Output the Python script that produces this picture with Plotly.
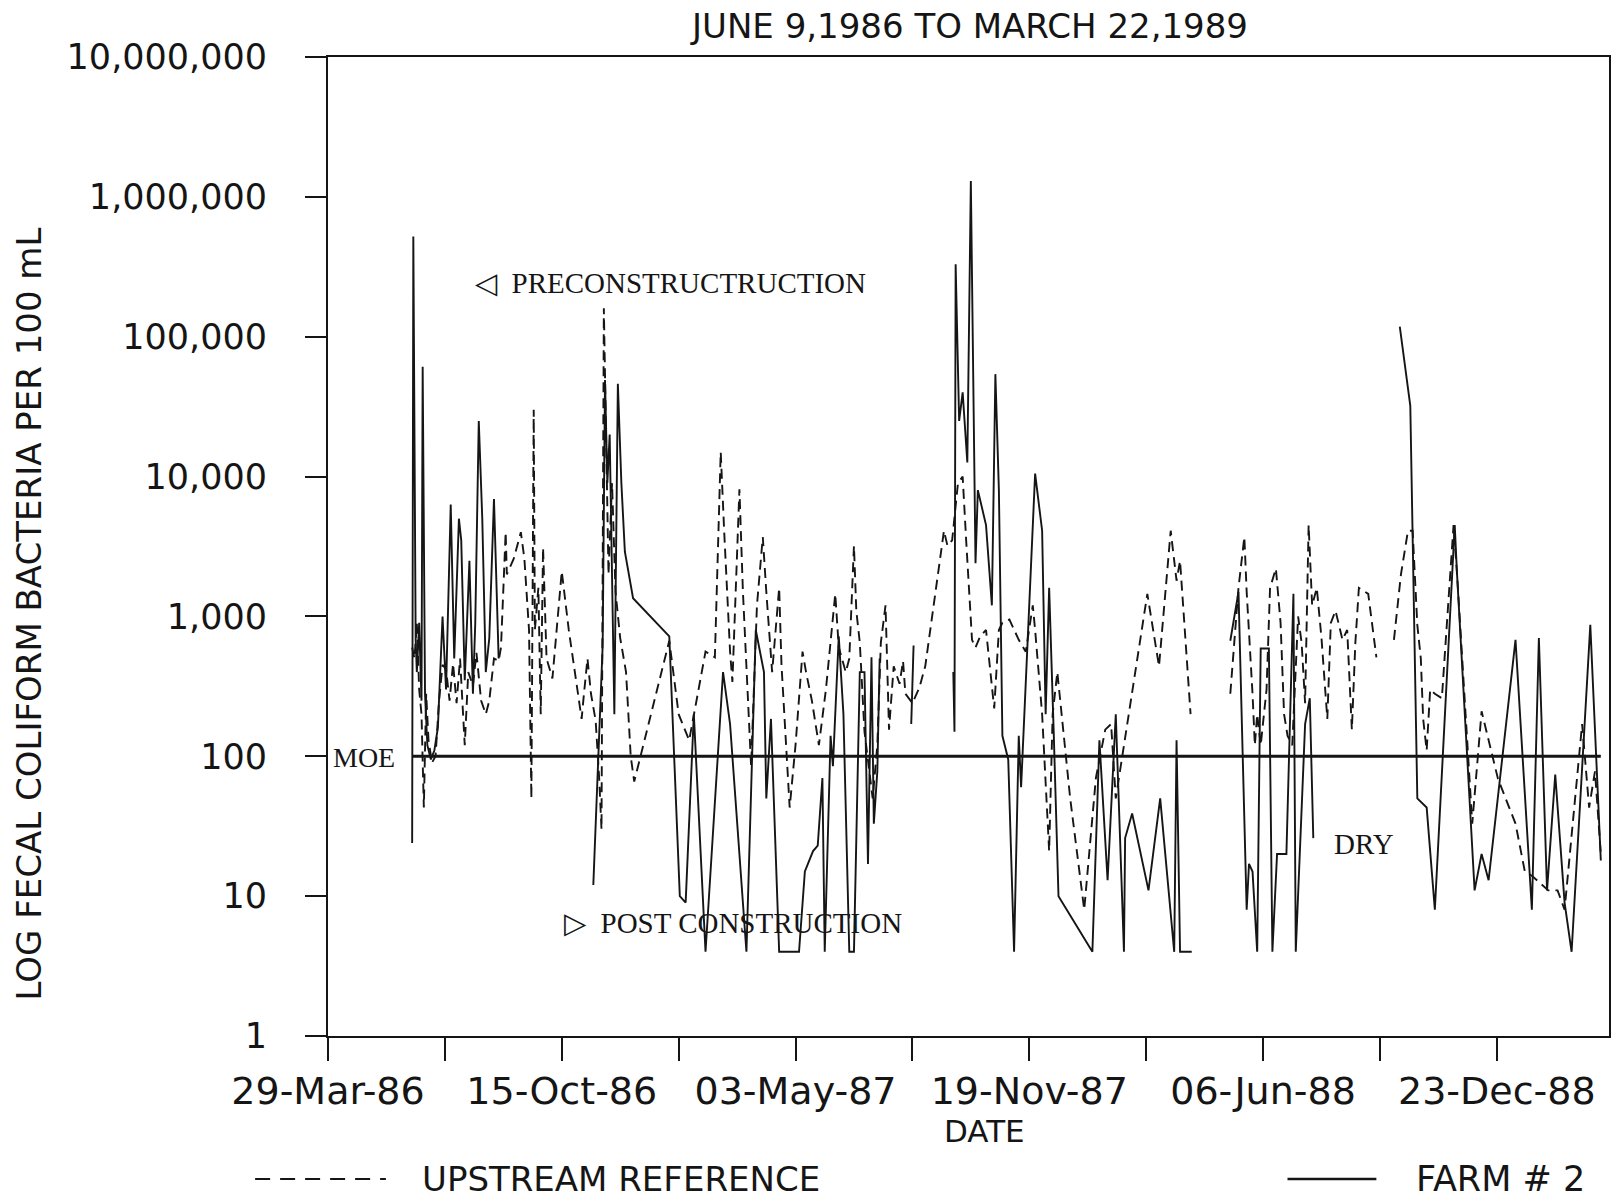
import pandas as pd
import plotly.graph_objects as go

# ---------------------------------------------------------------------------
# Fecal coliform counts (bacteria per 100 mL), June 9, 1986 to March 22, 1989
# None marks periods with no sample (e.g. dry stream bed)
# ---------------------------------------------------------------------------
farm2_dates = [
    "1986-06-09", "1986-06-10", "1986-06-12", "1986-06-13", "1986-06-15", "1986-06-17", "1986-06-18",
    "1986-06-20", "1986-06-22", "1986-06-25", "1986-06-28",
    "1986-07-01", "1986-07-05", "1986-07-08", "1986-07-12", "1986-07-15", "1986-07-19", "1986-07-21",
    "1986-07-24", "1986-07-28", "1986-07-31",
    "1986-08-02", "1986-08-05", "1986-08-08", "1986-08-11", "1986-08-14", "1986-08-18", "1986-08-20",
    "1986-08-22",
    "1986-10-01",
    "1986-11-11", "1986-11-16", "1986-11-19", "1986-11-21", "1986-11-23", "1986-11-25", "1986-11-27",
    "1986-11-29", "1986-12-02", "1986-12-05", "1986-12-08", "1986-12-15",
    "1987-01-15", "1987-01-24", "1987-01-29", "1987-02-05", "1987-02-15", "1987-03-02", "1987-03-08",
    "1987-03-22", "1987-03-30", "1987-04-06", "1987-04-08", "1987-04-12", "1987-04-19", "1987-05-06",
    "1987-05-11", "1987-05-18", "1987-05-22", "1987-05-26", "1987-05-28",
    "1987-06-02", "1987-06-04", "1987-06-09", "1987-06-13", "1987-06-18", "1987-06-22", "1987-06-27",
    "1987-07-01", "1987-07-02", "1987-07-04", "1987-07-07", "1987-07-09", "1987-07-12", "1987-07-14",
    "1987-07-28",
    "1987-08-10", "1987-08-12",
    "1987-09-01",
    "1987-09-15", "1987-09-16", "1987-09-17", "1987-09-20", "1987-09-23", "1987-09-27", "1987-09-30",
    "1987-10-04", "1987-10-06", "1987-10-13", "1987-10-18", "1987-10-21", "1987-10-24", "1987-10-27",
    "1987-11-01", "1987-11-06", "1987-11-10", "1987-11-12", "1987-11-24", "1987-11-30",
    "1987-12-03", "1987-12-06", "1987-12-10", "1987-12-14",
    "1988-01-12", "1988-01-18", "1988-01-25", "1988-02-01", "1988-02-08", "1988-02-09", "1988-02-15",
    "1988-02-29", "1988-03-10", "1988-03-22", "1988-03-24", "1988-03-27", "1988-04-06",
    "1988-04-20",
    "1988-05-09", "1988-05-16", "1988-05-23", "1988-05-25", "1988-05-28", "1988-06-01", "1988-06-04",
    "1988-06-11", "1988-06-14", "1988-06-18", "1988-06-26",
    "1988-07-02", "1988-07-04", "1988-07-12", "1988-07-16", "1988-07-19",
    "1988-08-25",
    "1988-10-01", "1988-10-10", "1988-10-16", "1988-10-24", "1988-10-31", "1988-11-17", "1988-11-19",
    "1988-12-04", "1988-12-10", "1988-12-16",
    "1989-01-08", "1989-01-22", "1989-01-28", "1989-02-04", "1989-02-11", "1989-02-19", "1989-02-25",
    "1989-03-13", "1989-03-22",
]
farm2_counts = [
    24, 520000, 680, 400, 900, 250, 61000,
    280, 120, 95, 110,
    160, 1000, 300, 6300, 500, 5000, 3500,
    350, 2500, 280,
    900, 25000, 5000, 400, 700, 6900, 1500,
    500,
    None,
    12, 140, 620, 49000, 9000, 20000, 2000,
    200, 46000, 9000, 2900, 1350,
    720, 10, 9, 200, 4, 400, 170,
    4, 800, 400, 50, 185, 4, 4,
    15, 21, 23, 70, 4,
    140, 85, 720, 200, 4, 4, 400,
    400, 120, 17, 510, 33, 78, 500,
    None,
    170, 620,
    None,
    400, 150, 330000, 25000, 40000, 12600, 1300000,
    2400, 8000, 4500, 1200, 54000, 8000, 140,
    95, 4, 140, 60, 10500, 4100,
    200, 1600, 140, 10,
    4, 130, 13, 200, 4, 26, 39,
    11, 50, 4, 130, 4, 4,
    None,
    670, 1500, 8, 17, 15, 4, 590,
    590, 4, 20, 20,
    1450, 4, 170, 260, 26,
    None,
    118000, 32000, 50, 43, 8, 4500, 2000,
    11, 20, 13,
    680, 8, 700, 11, 74, 9, 4,
    870, 18,
]

upstream_dates = [
    "1986-06-09", "1986-06-11", "1986-06-13", "1986-06-15", "1986-06-17", "1986-06-19", "1986-06-21",
    "1986-06-23", "1986-06-26", "1986-06-29",
    "1986-07-02", "1986-07-05", "1986-07-08", "1986-07-11", "1986-07-14", "1986-07-17", "1986-07-20",
    "1986-07-23", "1986-07-24", "1986-07-27", "1986-07-31",
    "1986-08-03", "1986-08-07", "1986-08-11", "1986-08-14", "1986-08-18", "1986-08-22", "1986-08-24",
    "1986-08-28", "1986-08-29",
    "1986-09-04", "1986-09-10", "1986-09-13", "1986-09-17", "1986-09-19", "1986-09-21", "1986-09-22",
    "1986-09-25", "1986-09-27", "1986-09-29",
    "1986-10-02", "1986-10-07", "1986-10-15", "1986-10-21", "1986-10-27",
    "1986-11-01", "1986-11-03", "1986-11-06", "1986-11-09", "1986-11-13", "1986-11-16", "1986-11-18",
    "1986-11-20", "1986-11-22", "1986-11-24", "1986-11-27", "1986-11-30",
    "1986-12-04", "1986-12-09", "1986-12-13", "1986-12-16",
    "1987-01-15", "1987-01-23", "1987-02-01", "1987-02-15", "1987-02-23", "1987-02-28", "1987-03-03",
    "1987-03-08", "1987-03-10", "1987-03-16", "1987-03-19", "1987-03-26", "1987-03-31",
    "1987-04-05", "1987-04-08", "1987-04-13", "1987-04-19", "1987-04-21", "1987-04-28",
    "1987-05-03", "1987-05-09", "1987-05-12", "1987-05-17", "1987-05-23", "1987-05-29",
    "1987-06-06", "1987-06-09", "1987-06-15", "1987-06-18", "1987-06-22", "1987-06-24", "1987-06-27",
    "1987-07-01", "1987-07-08", "1987-07-12", "1987-07-15", "1987-07-19", "1987-07-22", "1987-07-26",
    "1987-07-31",
    "1987-08-03", "1987-08-05", "1987-08-11", "1987-08-17", "1987-08-22", "1987-08-30",
    "1987-09-07", "1987-09-10", "1987-09-14", "1987-09-19", "1987-09-23", "1987-09-26",
    "1987-10-01", "1987-10-04", "1987-10-08", "1987-10-13", "1987-10-20", "1987-10-24", "1987-10-27",
    "1987-11-02", "1987-11-10", "1987-11-16", "1987-11-22", "1987-11-24", "1987-11-27", "1987-11-30",
    "1987-12-06", "1987-12-09", "1987-12-13", "1987-12-24",
    "1988-01-05", "1988-01-15", "1988-01-23", "1988-01-28", "1988-02-01", "1988-02-28",
    "1988-03-09", "1988-03-19", "1988-03-24", "1988-03-27", "1988-04-05",
    "1988-04-20",
    "1988-05-09", "1988-05-13", "1988-05-16", "1988-05-21", "1988-05-23", "1988-05-28", "1988-05-30",
    "1988-06-01", "1988-06-04", "1988-06-09", "1988-06-12", "1988-06-17", "1988-06-21", "1988-06-24",
    "1988-06-27",
    "1988-07-01", "1988-07-06", "1988-07-09", "1988-07-12", "1988-07-15", "1988-07-18", "1988-07-22",
    "1988-07-26", "1988-07-31",
    "1988-08-03", "1988-08-07", "1988-08-13", "1988-08-17", "1988-08-21", "1988-08-24", "1988-08-27",
    "1988-09-04", "1988-09-11",
    "1988-09-18",
    "1988-09-26", "1988-10-02", "1988-10-08", "1988-10-12", "1988-10-16", "1988-10-19", "1988-10-21",
    "1988-10-24", "1988-10-27", "1988-10-31",
    "1988-11-06", "1988-11-16", "1988-11-19", "1988-12-02", "1988-12-10", "1988-12-24",
    "1989-01-08", "1989-01-16", "1989-01-22", "1989-02-05", "1989-02-13", "1989-02-19",
    "1989-03-06", "1989-03-12", "1989-03-17", "1989-03-22",
]
upstream_counts = [
    600, 500, 900, 300, 200, 43, 280,
    130, 90, 100,
    250, 450, 420, 250, 460, 240, 500,
    180, 120, 400, 320,
    550, 250, 200, 250, 500, 480, 600,
    4000, 2000,
    2600, 4000, 2600, 800, 50, 30000, 800,
    1600, 200, 3100,
    500, 360, 2100, 800, 360,
    185, 280, 500, 280, 180, 70, 30,
    160000, 15000, 2000, 9000, 1500,
    700, 400, 100, 66,
    670, 200, 130, 560, 510, 15000, 4000,
    560, 340, 8100, 1500, 85, 1200,
    3700, 1500, 400, 1600, 450, 43,
    120, 560, 400, 250, 120, 300,
    1450, 600, 400, 500, 3200, 1100, 650,
    150, 50, 120, 650, 1200, 155, 440,
    330,
    480, 280, 240, 310, 440, 1400,
    4100, 3200, 3500, 9000, 10000, 3500,
    680, 600, 720, 800, 220, 800, 900,
    950, 680, 560, 1200, 800, 380, 200,
    21, 200, 400, 50,
    8, 70, 155, 170, 50, 1450,
    440, 4100, 1800, 2500, 200,
    None,
    280, 800, 1600, 3700, 1500, 280, 120,
    200, 120, 300, 1600, 2200, 900, 200,
    140,
    120, 1000, 650, 240, 4500, 1200, 1600,
    700, 185,
    900, 1100, 680, 800, 155, 650, 1600,
    1450, 510,
    None,
    680, 2000, 4100, 4100, 870, 500, 185,
    110, 300, 280,
    260, 4500, 2000, 33, 210, 69,
    33, 15, 14, 11, 11, 8,
    170, 43, 78, 20,
]

MOE_GUIDELINE = 100                         # objective, counts per 100 mL
survey_period = ["1986-06-09", "1989-03-22"]

date_tick_labels = ["29-Mar-86", "15-Oct-86", "03-May-87", "19-Nov-87", "06-Jun-88", "23-Dec-88"]
count_tick_values = [1, 10, 100, 1000, 10000, 100000, 1000000, 10000000]
count_tick_labels = ["1", "10", "100", "1,000", "10,000", "100,000", "1,000,000", "10,000,000"]

# ---------------------------------------------------------------------------
# Page geometry (pixels) and helpers for placing decorations
# ---------------------------------------------------------------------------
W, H = 1613, 1198
PLOT_LEFT, PLOT_RIGHT, PLOT_TOP, PLOT_BOTTOM = 328, 1611, 57, 1036


def px_x(px):
    return (px - PLOT_LEFT) / (PLOT_RIGHT - PLOT_LEFT)


def px_y(py):
    return (PLOT_BOTTOM - py) / (PLOT_BOTTOM - PLOT_TOP)


INK = "#151515"
SANS = "DejaVu Sans, Arial, sans-serif"
SERIF = "Liberation Serif, Times New Roman, serif"

tick_dates = pd.to_datetime(date_tick_labels, format="%d-%b-%y")
half_step = pd.Timedelta(days=100)
minor_dates = [d + half_step for d in tick_dates]
x_start = tick_dates[0]
x_end = x_start + pd.Timedelta(days=1096)

fig = go.Figure()

fig.add_trace(go.Scatter(
    x=pd.to_datetime(upstream_dates), y=upstream_counts, mode="lines",
    name="UPSTREAM REFERENCE", connectgaps=False,
    line=dict(color=INK, width=1.9, dash="10px,6px"),
))
fig.add_trace(go.Scatter(
    x=pd.to_datetime(farm2_dates), y=farm2_counts, mode="lines",
    name="FARM # 2", connectgaps=False,
    line=dict(color=INK, width=1.9),
))
fig.add_trace(go.Scatter(
    x=pd.to_datetime(survey_period), y=[MOE_GUIDELINE, MOE_GUIDELINE], mode="lines",
    name="MOE", line=dict(color=INK, width=3),
))

fig.update_layout(
    width=W, height=H, autosize=False,
    margin=dict(l=PLOT_LEFT, r=W - PLOT_RIGHT, t=PLOT_TOP, b=H - PLOT_BOTTOM, pad=0),
    paper_bgcolor="white", plot_bgcolor="white",
    showlegend=False,
    font=dict(family=SANS, color=INK, size=34),
)

fig.update_xaxes(
    type="date", range=[x_start, x_end],
    showgrid=False, zeroline=False,
    showline=True, linecolor=INK, linewidth=2, mirror=True,
    tickmode="array", tickvals=tick_dates, ticktext=date_tick_labels,
    ticks="outside", ticklen=23, tickwidth=2, tickcolor=INK,
    ticklabelstandoff=-3,
    tickfont=dict(family=SANS, size=38, color=INK),
    minor=dict(tickmode="array", tickvals=minor_dates, ticks="outside",
               ticklen=23, tickwidth=2, tickcolor=INK, showgrid=False),
)
fig.update_yaxes(
    type="log", range=[0, 7],
    showgrid=False, zeroline=False,
    showline=True, linecolor=INK, linewidth=2, mirror=True,
    tickmode="array", tickvals=count_tick_values, ticktext=count_tick_labels,
    ticks="outside", ticklen=21, tickwidth=2, tickcolor=INK,
    ticklabelstandoff=31,
    tickfont=dict(family=SANS, size=35, color=INK),
)

annotations = [
    dict(text="JUNE 9,1986 TO MARCH 22,1989", x=px_x(970), y=px_y(26),
         xanchor="center", yanchor="middle", font=dict(family=SANS, size=34, color=INK)),
    dict(text="LOG FECAL COLIFORM BACTERIA PER 100 mL", x=px_x(29), y=px_y(614), textangle=-90,
         xanchor="center", yanchor="middle", font=dict(family=SANS, size=34, color=INK)),
    dict(text="DATE", x=px_x(986), y=px_y(1131),
         xanchor="center", yanchor="middle", font=dict(family=SANS, size=31, color=INK)),
    dict(text="UPSTREAM REFERENCE", x=px_x(420), y=px_y(1179),
         xanchor="left", yanchor="middle", font=dict(family=SANS, size=34, color=INK)),
    dict(text="FARM # 2", x=px_x(1416), y=px_y(1179),
         xanchor="left", yanchor="middle", font=dict(family=SANS, size=35, color=INK)),
    dict(text="◁  PRECONSTRUCTRUCTION", x=px_x(473), y=px_y(283),
         xanchor="left", yanchor="middle", font=dict(family=SERIF, size=29, color=INK)),
    dict(text="▷  POST CONSTRUCTION", x=px_x(562), y=px_y(923),
         xanchor="left", yanchor="middle", font=dict(family=SERIF, size=29, color=INK)),
    dict(text="MOE", x=px_x(331), y=px_y(757),
         xanchor="left", yanchor="middle", font=dict(family=SERIF, size=28, color=INK)),
    dict(text="DRY", x=px_x(1334), y=px_y(844),
         xanchor="left", yanchor="middle", font=dict(family=SERIF, size=29, color=INK)),
]
for a in annotations:
    a.update(xref="paper", yref="paper", showarrow=False)
fig.update_layout(annotations=annotations)

# Legend keys drawn below the axis
fig.add_shape(type="line", xref="paper", yref="paper",
              x0=px_x(255), x1=px_x(386), y0=px_y(1179), y1=px_y(1179),
              line=dict(color=INK, width=2.2, dash="15px,10px"))
fig.add_shape(type="line", xref="paper", yref="paper",
              x0=px_x(1289), x1=px_x(1378), y0=px_y(1179), y1=px_y(1179),
              line=dict(color=INK, width=2.4))

fig.write_html("out.html")
